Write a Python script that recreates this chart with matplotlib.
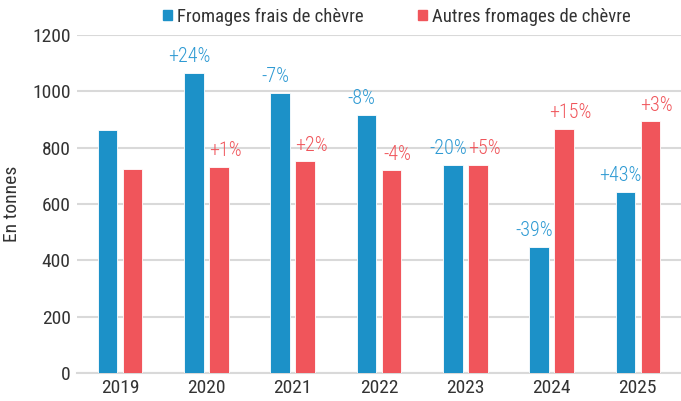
import matplotlib
matplotlib.use("Agg")
import matplotlib.pyplot as plt
import numpy as np
from matplotlib.patches import Patch

years = ["2019", "2020", "2021", "2022", "2023", "2024", "2025"]
frais = [861, 1064, 993, 915, 737, 448, 644]
autres = [726, 733, 751, 719, 737, 868, 893]
frais_labels = ["", "+24%", "-7%", "-8%", "-20%", "-39%", "+43%"]
autres_labels = ["", "+1%", "+2%", "-4%", "+5%", "+15%", "+3%"]
series_names = ["Fromages frais de chèvre", "Autres fromages de chèvre"]
yticks = [0, 200, 400, 600, 800, 1000, 1200]

plt.rcParams['font.family'] = ['Roboto Condensed', 'DejaVu Sans']

blue = "#1c91c8"
red = "#f0555b"
blue_txt = "#2e9ad3"
red_txt = "#f0555b"
grid = "#d9d9d9"
txt = "#333333"

fig = plt.figure(figsize=(6.81, 4.01), dpi=100)
ax = fig.add_axes([77/681, 1 - 373/401, 604/681, (373-35)/401])

x = np.arange(len(years))
w = 0.226
off = 0.145
ax.bar(x - off, frais, width=w, color=blue, edgecolor="white", linewidth=0.6, zorder=3)
ax.bar(x + off, autres, width=w, color=red, edgecolor="white", linewidth=0.6, zorder=3)

for i in range(len(years)):
    if frais_labels[i]:
        ax.annotate(frais_labels[i], (x[i] - off, frais[i]), xytext=(-3.5, 5),
                    textcoords="offset points", ha="center", va="bottom",
                    color=blue_txt, fontsize=14.5, fontweight="light")
    if autres_labels[i]:
        ax.annotate(autres_labels[i], (x[i] + off, autres[i]), xytext=(4.5, 5),
                    textcoords="offset points", ha="center", va="bottom",
                    color=red_txt, fontsize=14.5, fontweight="light")

ax.set_xlim(-0.5, len(years) - 0.5)
ax.set_ylim(0, 1200)
ax.set_yticks(yticks)
ax.set_xticks(x)
ax.set_xticklabels(years)
ax.grid(axis="y", color=grid, linewidth=1.5, zorder=0)
ax.set_axisbelow(True)
for s in ["top", "right", "left"]:
    ax.spines[s].set_visible(False)
ax.spines["bottom"].set_color(grid)
ax.spines["bottom"].set_linewidth(1.5)
ax.tick_params(axis="both", length=0, labelsize=14, colors=txt, pad=4)
ax.tick_params(axis="y", pad=4.5)
ax.set_ylabel("En tonnes", fontsize=14, color=txt)
ax.yaxis.set_label_coords(-56/604, 0.5)

handles = [Patch(color=blue), Patch(color=red)]
fig.legend(handles, series_names, loc="center", bbox_to_anchor=(397/681, 1 - 17/401),
           ncol=2, frameon=False, fontsize=13.5, handlelength=0.45, handleheight=0.45,
           handletextpad=0.3, columnspacing=2.9, labelcolor=txt)

fig.savefig("out.png", dpi=100)
